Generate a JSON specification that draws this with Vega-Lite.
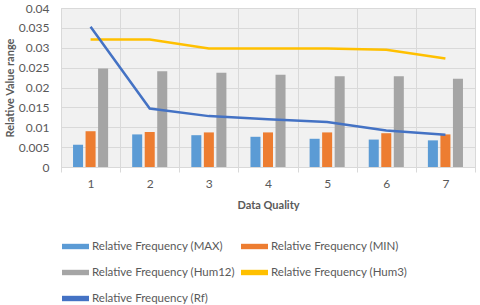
{
  "$schema": "https://vega.github.io/schema/vega-lite/v6.json",
  "autosize": "none",
  "width": 414,
  "height": 159,
  "padding": {"left": 61, "top": 8, "right": 5, "bottom": 138},
  "background": "white",
  "config": {
    "font": "Lato",
    "view": {"fill": "#f1f1f1", "stroke": "#d9d9d9", "strokeWidth": 1},
    "axis": {"labelColor": "#595959", "titleColor": "#595959", "labelFont": "Lato", "titleFont": "Lato", "gridColor": "#d9d9d9", "domain": false}
  },
  "data": {
    "values": [
      {"q": "1", "series": "Relative Frequency (MAX)", "value": 0.0056},
      {"q": "2", "series": "Relative Frequency (MAX)", "value": 0.0082},
      {"q": "3", "series": "Relative Frequency (MAX)", "value": 0.0080},
      {"q": "4", "series": "Relative Frequency (MAX)", "value": 0.0076},
      {"q": "5", "series": "Relative Frequency (MAX)", "value": 0.0071},
      {"q": "6", "series": "Relative Frequency (MAX)", "value": 0.0069},
      {"q": "7", "series": "Relative Frequency (MAX)", "value": 0.0067},
      {"q": "1", "series": "Relative Frequency (MIN)", "value": 0.0090},
      {"q": "2", "series": "Relative Frequency (MIN)", "value": 0.0088},
      {"q": "3", "series": "Relative Frequency (MIN)", "value": 0.0087},
      {"q": "4", "series": "Relative Frequency (MIN)", "value": 0.0087},
      {"q": "5", "series": "Relative Frequency (MIN)", "value": 0.0087},
      {"q": "6", "series": "Relative Frequency (MIN)", "value": 0.0085},
      {"q": "7", "series": "Relative Frequency (MIN)", "value": 0.0082},
      {"q": "1", "series": "Relative Frequency (Hum12)", "value": 0.0248},
      {"q": "2", "series": "Relative Frequency (Hum12)", "value": 0.0241},
      {"q": "3", "series": "Relative Frequency (Hum12)", "value": 0.0237},
      {"q": "4", "series": "Relative Frequency (Hum12)", "value": 0.0232},
      {"q": "5", "series": "Relative Frequency (Hum12)", "value": 0.0228},
      {"q": "6", "series": "Relative Frequency (Hum12)", "value": 0.0228},
      {"q": "7", "series": "Relative Frequency (Hum12)", "value": 0.0222},
      {"q": "1", "series": "Relative Frequency (Hum3)", "value": 0.0321},
      {"q": "2", "series": "Relative Frequency (Hum3)", "value": 0.0321},
      {"q": "3", "series": "Relative Frequency (Hum3)", "value": 0.0298},
      {"q": "4", "series": "Relative Frequency (Hum3)", "value": 0.0298},
      {"q": "5", "series": "Relative Frequency (Hum3)", "value": 0.0298},
      {"q": "6", "series": "Relative Frequency (Hum3)", "value": 0.0295},
      {"q": "7", "series": "Relative Frequency (Hum3)", "value": 0.0273},
      {"q": "1", "series": "Relative Frequency (Rf)", "value": 0.0353},
      {"q": "2", "series": "Relative Frequency (Rf)", "value": 0.0147},
      {"q": "3", "series": "Relative Frequency (Rf)", "value": 0.0128},
      {"q": "4", "series": "Relative Frequency (Rf)", "value": 0.0120},
      {"q": "5", "series": "Relative Frequency (Rf)", "value": 0.0113},
      {"q": "6", "series": "Relative Frequency (Rf)", "value": 0.0092},
      {"q": "7", "series": "Relative Frequency (Rf)", "value": 0.0081}
    ]
  },
  "encoding": {
    "x": {
      "field": "q", "type": "ordinal",
      "scale": {"paddingInner": 0, "paddingOuter": 0},
      "axis": {
        "title": "Data Quality", "titleFontSize": 11, "titleFontWeight": "bold", "titlePadding": 10,
        "labelAngle": 0, "labelFontSize": 12, "labelPadding": 6,
        "tickBand": "extent", "ticks": true, "tickColor": "#d9d9d9", "tickSize": 5,
        "grid": true, "domain": true, "domainColor": "#d9d9d9"
      }
    },
    "y": {
      "field": "value", "type": "quantitative",
      "scale": {"domain": [0, 0.04], "nice": false},
      "axis": {
        "title": "Relative Value range", "titleFontSize": 11, "titleFontWeight": "bold", "titlePadding": 3,
        "values": [0, 0.005, 0.01, 0.015, 0.02, 0.025, 0.03, 0.035, 0.04],
        "labelExpr": "'' + datum.value",
        "labelFontSize": 12, "labelPadding": 12, "ticks": false, "grid": true
      }
    },
    "color": {
      "field": "series", "type": "nominal",
      "scale": {
        "domain": ["Relative Frequency (MAX)", "Relative Frequency (MIN)", "Relative Frequency (Hum12)", "Relative Frequency (Hum3)", "Relative Frequency (Rf)"],
        "range": ["#5B9BD5", "#ED7D31", "#A5A5A5", "#FFC000", "#4472C4"]
      },
      "legend": {
        "title": null, "orient": "none", "legendX": 1, "legendY": 225,
        "direction": "horizontal", "columns": 2, "columnPadding": 6, "rowPadding": 7,
        "symbolType": "M-1,-0.2H1V0.2H-1Z", "symbolSize": 729, "symbolStrokeWidth": 0,
        "labelFont": "Lato", "labelFontSize": 11.5, "labelColor": "#595959", "labelOffset": 3
      }
    }
  },
  "layer": [
    {
      "transform": [{"filter": "indexof(['Relative Frequency (MAX)','Relative Frequency (MIN)','Relative Frequency (Hum12)'], datum.series) >= 0"}],
      "mark": {"type": "bar"},
      "encoding": {
        "xOffset": {
          "field": "series", "type": "nominal",
          "scale": {"domain": ["Relative Frequency (MAX)", "Relative Frequency (MIN)", "Relative Frequency (Hum12)"], "paddingInner": 0.2, "paddingOuter": 0.96}
        }
      }
    },
    {
      "transform": [{"filter": "indexof(['Relative Frequency (Hum3)','Relative Frequency (Rf)'], datum.series) >= 0"}],
      "mark": {"type": "line", "strokeWidth": 2.5},
      "encoding": {}
    }
  ]
}
